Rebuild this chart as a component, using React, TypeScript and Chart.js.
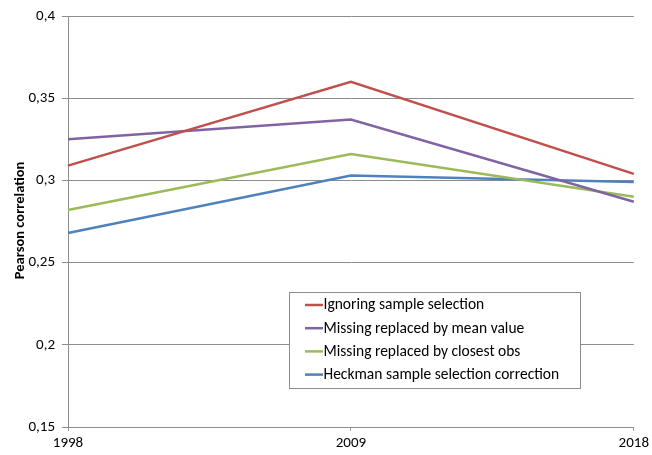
import React, { useEffect, useRef } from "react";
import { Chart, registerables } from "chart.js";
Chart.register(...registerables);

const years = ["1998", "2009", "2018"];
const ignoringSelection = [0.309, 0.36, 0.304];
const meanReplaced = [0.325, 0.337, 0.287];
const closestReplaced = [0.282, 0.316, 0.29];
const heckmanCorrection = [0.268, 0.303, 0.299];
const yTickLabels = ["0,15", "0,2", "0,25", "0,3", "0,35", "0,4"];
const seriesNames = [
  "Ignoring sample selection",
  "Missing replaced by mean value",
  "Missing replaced by closest obs",
  "Heckman sample selection correction",
];
const seriesColors = ["#C0504D", "#8064A2", "#9BBB59", "#4F81BD"];
const yTitle = "Pearson correlation";

const FONT = "Carlito, Calibri, Lato, sans-serif";

const overlayPlugin = {
  id: "overlay",
  afterDraw(chart: any) {
    const ctx = chart.ctx as CanvasRenderingContext2D;
    const area = chart.chartArea;
    ctx.save();
    // y axis title
    ctx.translate(20.5, 220.5);
    ctx.rotate(-Math.PI / 2);
    ctx.fillStyle = "#000";
    ctx.font = `bold 14.5px ${FONT}`;
    ctx.textAlign = "center";
    ctx.textBaseline = "middle";
    ctx.fillText(yTitle, 0, 0);
    ctx.restore();

    // legend box
    ctx.save();
    const bx = 289.5, by = 292.5, bw = 291, bh = 96;
    ctx.fillStyle = "#fff";
    ctx.fillRect(bx, by, bw, bh);
    ctx.strokeStyle = "#8c8c8c";
    ctx.lineWidth = 1;
    ctx.strokeRect(bx, by, bw, bh);
    ctx.font = `15.5px ${FONT}`;
    ctx.textBaseline = "middle";
    ctx.textAlign = "left";
    chart.data.datasets.forEach((ds: any, i: number) => {
      const y = 305 + i * 23.2;
      ctx.strokeStyle = ds.borderColor;
      ctx.lineWidth = 2.5;
      ctx.beginPath();
      ctx.moveTo(305, y);
      ctx.lineTo(323, y);
      ctx.stroke();
      ctx.fillStyle = "#000";
      ctx.fillText(ds.label, 323.5, y + 0.5);
    });
    ctx.restore();
  },
};

export default function App() {
  const ref = useRef<HTMLCanvasElement | null>(null);
  useEffect(() => {
    document.body.style.margin = "0";
    const seriesData = [ignoringSelection, meanReplaced, closestReplaced, heckmanCorrection];
    const chart = new Chart(ref.current as HTMLCanvasElement, {
      type: "line",
      data: {
        labels: years,
        datasets: seriesData.map((d, i) => ({
          label: seriesNames[i],
          data: d,
          borderColor: seriesColors[i],
          backgroundColor: seriesColors[i],
          borderWidth: 2.5,
          pointRadius: 0,
          tension: 0,
          fill: false,
        })),
      },
      options: {
        animation: false,
        responsive: false,
        maintainAspectRatio: false,
        layout: { padding: { left: 0, right: 15, top: 15, bottom: 0 } },
        plugins: {
          legend: { display: false },
          tooltip: { enabled: false },
        },
        scales: {
          x: {
            offset: false,
            afterFit: (s: any) => {
              s.height = 28;
            },
            grid: {
              drawOnChartArea: false,
              drawTicks: true,
              tickLength: 4,
              color: "#a0a0a0",
            },
            border: { color: "#8c8c8c", width: 1 },
            ticks: {
              color: "#000",
              font: { family: FONT, size: 15 },
              padding: 3,
              maxRotation: 0,
            },
          },
          y: {
            min: 0.15,
            max: 0.4,
            afterFit: (s: any) => {
              s.width = 68;
            },
            afterBuildTicks: (s: any) => {
              s.ticks = yTickLabels.map((_, i) => ({ value: 0.15 + i * 0.05 }));
            },
            grid: {
              color: "#8c8c8c",
              lineWidth: 1,
              drawTicks: true,
              tickLength: 6,
            },
            border: { color: "#8c8c8c", width: 1 },
            ticks: {
              color: "#000",
              font: { family: FONT, size: 15 },
              padding: 7,
              callback: (_v: any, i: number) => yTickLabels[i],
            },
          },
        },
      },
      plugins: [overlayPlugin],
    });
    return () => chart.destroy();
  }, []);
  return (
    <div style={{ width: 652, height: 455, background: "#fff" }}>
      <canvas ref={ref} width={652} height={455} />
    </div>
  );
}
